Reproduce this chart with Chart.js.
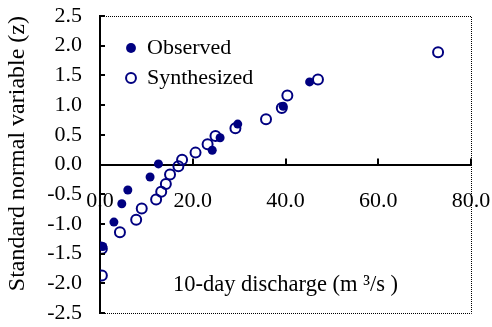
<!DOCTYPE html>
<html>
<head>
<meta charset="utf-8">
<script src="https://cdn.jsdelivr.net/npm/chart.js@4.4.0/dist/chart.umd.min.js"></script>
<style>
  html, body { margin: 0; padding: 0; background: #fff; }
  #wrap { width: 492px; height: 327px; }
</style>
</head>
<body>
<div id="wrap"><canvas id="myChart" width="492" height="327"></canvas></div>
<script>
// observed values (filled dots)
const obsX = [0.2, 0.6, 3.0, 4.7, 6.0, 10.8, 12.6, 24.2, 25.9, 29.7, 39.5, 45.2];
const obsY = [-1.37, -1.38, -0.97, -0.66, -0.43, -0.21, 0.01, 0.24, 0.45, 0.68, 0.98, 1.39];

// synthesized values (open circles)
const synX = [0.4, 0.4, 4.3, 7.8, 9.0, 12.1, 13.2, 14.2, 15.1, 16.9, 17.7, 20.6, 23.2, 24.9, 29.2, 35.8, 39.2, 40.4, 47.0, 72.9];
const synY = [-1.87, -1.42, -1.14, -0.93, -0.74, -0.59, -0.46, -0.33, -0.17, -0.03, 0.08, 0.20, 0.34, 0.48, 0.61, 0.76, 0.95, 1.16, 1.43, 1.89];

const xTicks = [0, 20, 40, 60, 80];
const yTicks = [-2.5, -2.0, -1.5, -1.0, -0.5, 0.0, 0.5, 1.0, 1.5, 2.0, 2.5];

const navy = "#000080";
const serif = "'Liberation Serif', 'Times New Roman', serif";
Chart.defaults.font.family = serif;
Chart.defaults.color = "#000";

function pts(xs, ys) {
  return xs.map((x, i) => ({ x: x, y: ys[i] }));
}

// inward tick marks + dotted plot frame
const frame = {
  id: "frame",
  afterDraw(chart) {
    const ctx = chart.ctx;
    const a = chart.chartArea;
    const xs = chart.scales.x;
    const ys = chart.scales.y;
    const y0 = ys.getPixelForValue(0);
    ctx.save();
    ctx.strokeStyle = "#000";
    ctx.lineWidth = 2;
    ctx.beginPath();
    yTicks.forEach(v => {
      const py = Math.round(ys.getPixelForValue(v));
      ctx.moveTo(a.left, py);
      ctx.lineTo(a.left + 5, py);
    });
    xTicks.slice(1).forEach(v => {
      const px = Math.round(xs.getPixelForValue(v));
      ctx.moveTo(px, y0);
      ctx.lineTo(px, y0 - 6);
    });
    ctx.stroke();

    ctx.lineWidth = 1;
    ctx.setLineDash([1, 1]);
    ctx.beginPath();
    ctx.moveTo(a.left, a.top + 0.5);
    ctx.lineTo(a.right + 0.5, a.top + 0.5);
    ctx.lineTo(a.right + 0.5, a.bottom + 0.5);
    ctx.lineTo(a.left, a.bottom + 0.5);
    ctx.stroke();
    ctx.restore();
  }
};

// put the legend box inside the plot, upper left
const legendSpot = {
  id: "legendSpot",
  afterLayout(chart) {
    const lg = chart.legend;
    const a = chart.chartArea;
    lg.left = a.left + 18;
    lg.top = a.top + 13;
    lg.right = lg.left + lg.width;
    lg.bottom = lg.top + lg.height;
  }
};

new Chart(document.getElementById("myChart"), {
  type: "scatter",
  data: {
    datasets: [
      {
        label: "Observed",
        data: pts(obsX, obsY),
        backgroundColor: navy,
        borderColor: navy,
        borderWidth: 0,
        pointRadius: 4.5,
        order: 1
      },
      {
        label: "Synthesized",
        data: pts(synX, synY),
        backgroundColor: "rgba(0,0,0,0)",
        borderColor: navy,
        borderWidth: 2,
        pointRadius: 5,
        order: 0
      }
    ]
  },
  options: {
    responsive: false,
    animation: false,
    layout: { padding: { left: 0, top: 16, right: 21, bottom: 14 } },
    plugins: {
      tooltip: { enabled: false },
      legend: {
        position: "chartArea",
        align: "start",
        labels: {
          usePointStyle: true,
          boxWidth: 10,
          boxHeight: 7,
          padding: 8,
          color: "#000",
          font: { size: 22 },
          generateLabels(chart) {
            return chart.data.datasets.map((ds, i) => ({
              text: ds.label,
              datasetIndex: i,
              pointStyle: "circle",
              fillStyle: i === 0 ? navy : "#fff",
              strokeStyle: navy,
              lineWidth: i === 0 ? 0 : 2,
              fontColor: "#000"
            }));
          }
        }
      }
    },
    scales: {
      x: {
        type: "linear",
        position: { y: 0 },
        min: 0,
        max: 80,
        grid: { display: false, drawTicks: false },
        border: { display: true, color: "#000", width: 2 },
        afterBuildTicks(scale) {
          scale.ticks = xTicks.map(v => ({ value: v }));
        },
        afterFit(scale) {
          scale.paddingLeft = 0;
          scale.paddingRight = 0;
          scale.paddingTop = 0;
          scale.paddingBottom = 0;
        },
        ticks: {
          padding: 24,
          font: { size: 22 },
          color: "#000",
          callback: v => v.toFixed(1)
        },
        title: {
          display: true,
          text: "10-day discharge (m \u00B3/s )",
          font: { size: 22.5 },
          color: "#000",
          padding: { top: 33, bottom: 0 }
        }
      },
      y: {
        type: "linear",
        min: -2.5,
        max: 2.5,
        grid: { display: false, drawTicks: false },
        border: { display: true, color: "#000", width: 2 },
        afterBuildTicks(scale) {
          scale.ticks = yTicks.map(v => ({ value: v }));
        },
        afterFit(scale) {
          scale.width = 100;
          scale.paddingTop = 0;
          scale.paddingBottom = 0;
        },
        ticks: {
          padding: 18,
          font: { size: 22 },
          color: "#000",
          callback: v => v.toFixed(1)
        },
        title: {
          display: true,
          align: "end",
          text: "Standard normal variable (z)",
          font: { size: 24 },
          color: "#000",
          padding: { top: 3, bottom: 0 }
        }
      }
    }
  },
  plugins: [frame, legendSpot]
});
</script>
</body>
</html>
